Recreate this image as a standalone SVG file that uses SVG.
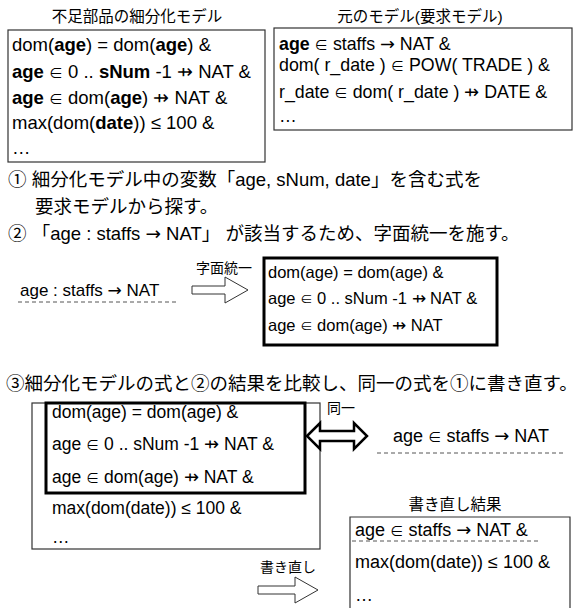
<svg xmlns="http://www.w3.org/2000/svg" width="581" height="608" viewBox="0 0 581 608">
<style>
text{font-family:"Liberation Sans","Noto Sans CJK JP",sans-serif;fill:#000}
.b1{font-size:18.5px}
.b2{font-size:17.8px}
.st{font-size:18.5px}
.s2{font-size:17px}
.s2b{font-size:16.5px}
.s3{font-size:17.5px}
.s3e{font-size:18px}
.r{font-size:18px}
.ti{font-size:15.5px}
.lb{font-size:14px}
.b{font-weight:bold}
.e{font-size:0.75em}
.ar{font-family:"DejaVu Sans",sans-serif;font-size:1em}
.thin{fill:#fff;stroke:#333;stroke-width:1.2}
.thick{fill:none;stroke:#000;stroke-width:3}
.dash{stroke:#555;stroke-width:1;stroke-dasharray:4 3;fill:none}
.arr{fill:#fff;stroke:#333;stroke-width:1}
.arr2{fill:#fff;stroke:#000;stroke-width:2.5}
</style>
<rect width="581" height="608" fill="#fff"/>

<g id="subdivided-model">
<text class="ti" x="137" y="22" text-anchor="middle">不足部品の細分化モデル</text>
<rect class="thin" x="8" y="30" width="257" height="132"/>
<text class="b1" x="12" y="51">dom(<tspan class="b">age</tspan>) = dom(<tspan class="b">age</tspan>) &amp;</text>
<text class="b1" x="12" y="78"><tspan class="b">age</tspan> <tspan class="e">∈</tspan> 0 .. <tspan class="b">sNum</tspan> -1 ⇸ NAT &amp;</text>
<text class="b1" x="12" y="104"><tspan class="b">age</tspan> <tspan class="e">∈</tspan> dom(<tspan class="b">age</tspan>) ⇸ NAT &amp;</text>
<text class="b1" x="12" y="129">max(dom(<tspan class="b">date</tspan>)) ≤ 100 &amp;</text>
<text class="b1" x="12" y="154">…</text>
</g>

<g id="requirement-model">
<text class="ti" x="420" y="22" text-anchor="middle">元のモデル(要求モデル)</text>
<rect class="thin" x="274" y="28" width="298" height="102"/>
<text class="b2" x="279" y="50"><tspan class="b">age</tspan> <tspan class="e">∈</tspan> staffs <tspan class="ar">→</tspan> NAT &amp;</text>
<text class="b2" x="279" y="71">dom( r_date ) <tspan class="e">∈</tspan> POW( TRADE ) &amp;</text>
<text class="b2" x="279" y="98">r_date <tspan class="e">∈</tspan> dom( r_date ) ⇸ DATE &amp;</text>
<text class="b2" x="279" y="122">…</text>
</g>

<g id="steps">
<text class="st" x="8" y="186">① 細分化モデル中の変数「age, sNum, date」を含む式を</text>
<text class="st" x="35" y="213">要求モデルから探す。</text>
<text class="st" x="8" y="240">② 「age : staffs <tspan class="ar">→</tspan> NAT」 が該当するため、字面統一を施す。</text>
<text class="st" x="6" y="390">③細分化モデルの式と②の結果を比較し、同一の式を①に書き直す。</text>
</g>

<g id="step2-source">
<text class="s2" x="20" y="296">age : staffs <tspan class="ar">→</tspan> NAT</text>
<line class="dash" x1="18" y1="302" x2="177" y2="302"/>
</g>

<g id="step2-result">
<rect class="thick" x="264" y="258" width="233" height="87"/>
<text class="s2b" x="268" y="278">dom(age) = dom(age) &amp;</text>
<text class="s2b" x="268" y="304">age <tspan class="e">∈</tspan> 0 .. sNum -1 ⇸ NAT &amp;</text>
<text class="s2b" x="268" y="331">age <tspan class="e">∈</tspan> dom(age) ⇸ NAT</text>
</g>

<g id="step3-model">
<rect class="thin" x="32" y="403" width="288" height="146"/>
<rect class="thick" x="46" y="403" width="259" height="90"/>
<text class="s3" x="52" y="418">dom(age) = dom(age) &amp;</text>
<text class="s3" x="52" y="450">age <tspan class="e">∈</tspan> 0 .. sNum -1 ⇸ NAT &amp;</text>
<text class="s3" x="52" y="483">age <tspan class="e">∈</tspan> dom(age) ⇸ NAT &amp;</text>
<text class="s3" x="52" y="514">max(dom(date)) ≤ 100 &amp;</text>
<text class="s3" x="52" y="543">…</text>
</g>

<g id="step3-expr">
<text class="s3e" x="393" y="442">age <tspan class="e">∈</tspan> staffs <tspan class="ar">→</tspan> NAT</text>
<line class="dash" x1="377" y1="453" x2="565" y2="453"/>
</g>

<g id="rewrite-result">
<text class="ti" x="455" y="510" text-anchor="middle">書き直し結果</text>
<path class="thin" d="M350,610 V517 H570 V610"/>
<text class="r" x="355" y="536">age <tspan class="e">∈</tspan> staffs <tspan class="ar">→</tspan> NAT &amp;</text>
<line class="dash" x1="352" y1="541" x2="540" y2="541"/>
<text class="r" x="355" y="568">max(dom(date)) ≤ 100 &amp;</text>
<text class="r" x="355" y="601">…</text>
</g>

<g id="connectors">
<text class="lb" x="196" y="273">字面統一</text>
<polygon class="arr" points="192,286 225,286 225,277 248,290 225,303 225,294 192,294"/>
<text class="lb" x="327" y="413">同一</text>
<polygon class="arr2" points="307,436 320,423 320,431 354,431 354,423 367,436 354,449 354,441 320,441 320,449"/>
<text class="lb" x="260" y="572">書き直し</text>
<polygon class="arr" points="258,586 295,586 295,577 318,590 295,603 295,594 258,594"/>
</g>
</svg>
